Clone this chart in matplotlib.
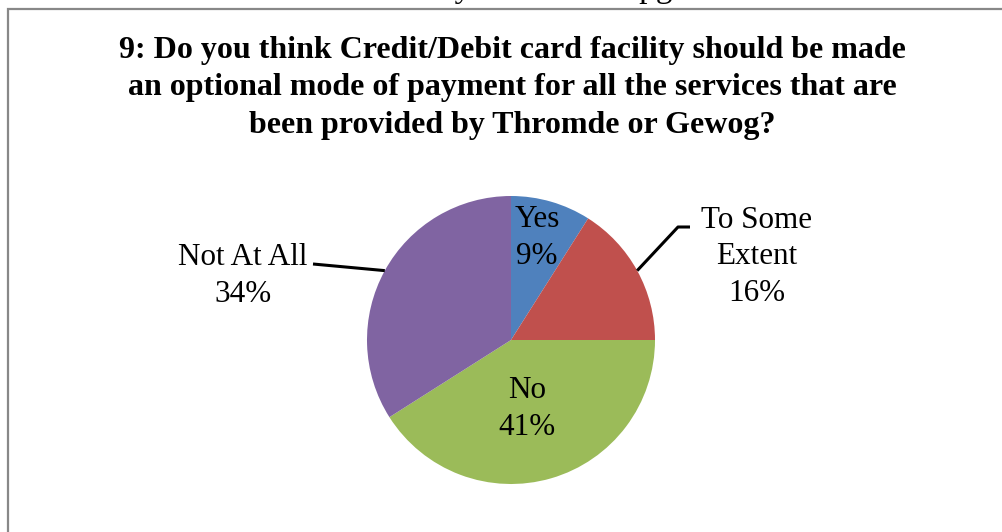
import numpy as np
import matplotlib
matplotlib.use("Agg")
import matplotlib.pyplot as plt
from matplotlib.patches import Rectangle

# Survey responses, question 9
labels = ["Yes", "To Some\nExtent", "No", "Not At All"]
shares = [9, 16, 41, 34]
colors = ["#4F81BD", "#C0504D", "#9BBB59", "#8064A2"]

title = ("9: Do you think Credit/Debit card facility should be made\n"
         "an optional mode of payment for all the services that are\n"
         "been provided by Thromde or Gewog?")
body_line = "of them were not satisfied and said they needed an upgrade."

W, H = 1002, 532
plt.rcParams["font.family"] = ["Liberation Serif", "DejaVu Serif"]

fig = plt.figure(figsize=(W / 100, H / 100), dpi=100)
ax = fig.add_axes([0, 0, 1, 1])
ax.set_xlim(0, W)
ax.set_ylim(0, H)
ax.set_aspect("equal")
ax.axis("off")

# line of document text running above the chart frame
fig.text(738 / W, 1.0 + 3 / H, body_line, fontsize=24, va="baseline",
         ha="right")

# chart frame
ax.add_patch(Rectangle((8.5, -20), 1100, H - 8.5 + 20, fill=False,
                       edgecolor="#888888", linewidth=1.6))

cx, cy, r = 511, H - 340, 144
ax.pie(shares, colors=colors, startangle=90, counterclock=False,
       center=(cx, cy), radius=r, wedgeprops=dict(linewidth=0))
ax.set_xlim(0, W)
ax.set_ylim(0, H)

fig.text(0.511, 1 - 88 / H, title, fontsize=23, fontweight="bold",
         ha="center", va="center", linespacing=1.39)

# point on the rim at the middle of each wedge
cum = np.cumsum([0] + shares)
mids = (cum[:-1] + cum[1:]) / 2 / sum(shares) * 2 * np.pi
rim = [(cx + r * np.sin(a), cy + r * np.cos(a)) for a in mids]

fs = 22.4
ls = 1.33
ax.text(537, H - 238, f"{labels[0]}\n{shares[0]}%", fontsize=fs,
        ha="center", va="center", linespacing=ls)
ax.text(527, H - 409, f"{labels[2]}\n{shares[2]}%", fontsize=fs,
        ha="center", va="center", linespacing=ls)
ax.text(757, H - 257, f"{labels[1]}\n{shares[1]}%", fontsize=fs,
        ha="center", va="center", linespacing=ls)
ax.text(243, H - 276, f"{labels[3]}\n{shares[3]}%", fontsize=fs,
        ha="center", va="center", linespacing=ls)

# leader lines
x1, y1 = rim[1]
ax.plot([x1, 678, 690], [y1, H - 227, H - 227], color="black", lw=2.2,
        solid_capstyle="butt")
x3, y3 = rim[3]
ax.plot([x3, 313], [y3, H - 264], color="black", lw=2.2,
        solid_capstyle="butt")

fig.savefig("out.png", dpi=100)
